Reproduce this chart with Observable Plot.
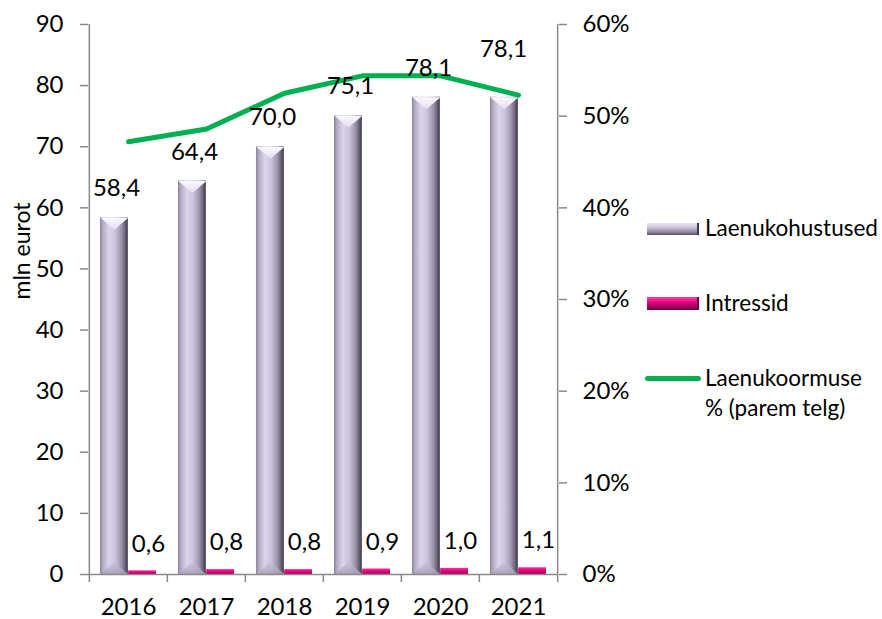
<!DOCTYPE html>
<html>
<head>
<meta charset="utf-8">
<script src="https://cdn.jsdelivr.net/npm/d3@7"></script>
<script src="https://cdn.jsdelivr.net/npm/@observablehq/plot@0.6"></script>
<style>
  html, body { margin: 0; padding: 0; background: #fff; }
  #wrap { position: relative; width: 882px; height: 619px; font-family: Lato, sans-serif; }
  .leg { position: absolute; font-size: 22.5px; color: #000; line-height: 30px; }
  .sw { position: absolute; }
</style>
</head>
<body>
<div id="wrap"></div>
<script>
const years = ["2016", "2017", "2018", "2019", "2020", "2021"];
const loans = [58.4, 64.4, 70.0, 75.1, 78.1, 78.1];
const interest = [0.6, 0.8, 0.8, 0.9, 1.0, 1.1];
const loadPct = [47.2, 48.6, 52.5, 54.4, 54.4, 52.3];
const leftTicks = [0, 10, 20, 30, 40, 50, 60, 70, 80, 90];
const rightTicksPct = [0, 10, 20, 30, 40, 50, 60];
const seriesNames = ["Laenukohustused", "Intressid", "Laenukoormuse % (parem telg)"];

const PCT_TO_LEFT = 90 / 60;
const data = years.map((year, i) => ({year, loan: loans[i], interest: interest[i], pct: loadPct[i]}));
const fmt = v => v.toFixed(1).replace(".", ",");

const W = 882, H = 619;
const mL = 88, mR = W - 558, mT = 24, mB = H - 574;
const bw = (W - mL - mR) / years.length;
const barW = bw * 0.36;
const gap = bw / 2 - barW;

const vSymbol = {
  draw(context, size) {
    const w = Math.sqrt(size);
    context.moveTo(-w / 2, 0);
    context.lineTo(w / 2, 0);
    context.lineTo(0, w * 0.43);
    context.closePath();
  }
};
const baseSymbol = {
  draw(context, size) {
    const w = Math.sqrt(size);
    context.moveTo(-w / 2, 0);
    context.lineTo(w / 2, 0);
    context.lineTo(0, -w * 0.45);
    context.closePath();
  }
};
const rV = barW / Math.sqrt(Math.PI);

const axisColor = "#898989";
const FS = 24;

const plot = Plot.plot({
  width: W, height: H,
  marginLeft: mL, marginRight: mR, marginTop: mT, marginBottom: mB,
  style: {fontFamily: "Lato, sans-serif", fontSize: FS + "px", color: "#000", background: "transparent", overflow: "visible"},
  x: {domain: years, padding: 0, axis: null},
  y: {domain: [0, 90], axis: null},
  marks: [
    Plot.barY(data, {x: "year", y: "loan", insetLeft: gap, insetRight: bw - gap - barW, fill: "url(#gLoan)"}),
    Plot.dot(data, {x: "year", y: 0, symbol: baseSymbol, r: rV, fill: "url(#gBase)", dx: -barW / 2, stroke: null}),
    Plot.dot(data, {x: "year", y: "loan", symbol: vSymbol, r: rV, fill: "url(#gTop)", dx: -barW / 2, stroke: null}),
    Plot.barY(data, {x: "year", y: "interest", insetLeft: bw / 2, insetRight: bw / 2 - barW, fill: "url(#gInt)"}),
    Plot.ruleX([years[0]], {x: d => d, y1: 0, y2: 90, dx: -bw / 2, stroke: axisColor, strokeWidth: 1.5}),
    Plot.ruleX([years[years.length - 1]], {x: d => d, y1: 0, y2: 90, dx: bw / 2, stroke: axisColor, strokeWidth: 1.5}),
    Plot.ruleY([0], {stroke: axisColor, strokeWidth: 1.5}),
    Plot.ruleX(years, {x: d => d, y1: 0, y2: 0, insetBottom: -8, dx: -bw / 2, stroke: axisColor, strokeWidth: 1.5}),
    Plot.ruleX([years[years.length - 1]], {x: d => d, y1: 0, y2: 0, insetBottom: -8, dx: bw / 2, stroke: axisColor, strokeWidth: 1.5}),
    Plot.axisY({anchor: "left", ticks: leftTicks, tickSize: 8, tickPadding: 17, stroke: axisColor, strokeWidth: 1.5, fontSize: FS, label: null}),
    Plot.axisY({anchor: "right", ticks: rightTicksPct.map(p => p * PCT_TO_LEFT), tickFormat: d => Math.round(d / PCT_TO_LEFT) + "%", tickSize: 8, tickPadding: 16, stroke: axisColor, strokeWidth: 1.5, fontSize: FS, label: null}),
    Plot.text(years, {x: d => d, frameAnchor: "bottom", dy: 33, lineAnchor: "middle", fontSize: FS}),
    Plot.text(["mln eurot"], {frameAnchor: "left", rotate: -90, dx: -66, fontSize: 23, lineAnchor: "middle"}),
    Plot.line(data, {x: "year", y: d => d.pct * PCT_TO_LEFT, stroke: "#00b050", strokeWidth: 5, strokeLinecap: "round", strokeLinejoin: "round"}),
    Plot.text(data.slice(0, -1), {x: "year", y: "loan", text: d => fmt(d.loan), dx: -12, dy: -29, lineAnchor: "middle", fontSize: FS}),
    Plot.text(data.slice(-1), {x: "year", y: "loan", text: d => fmt(d.loan), dx: -15, dy: -48, lineAnchor: "middle", fontSize: FS}),
    Plot.text(data, {x: "year", y: "interest", text: d => fmt(d.interest), dx: 20, dy: -27, lineAnchor: "middle", fontSize: FS})
  ]
});

d3.select(plot).insert("defs", ":first-child").html(`
  <linearGradient id="gLoan" x1="0" x2="1" y1="0" y2="0">
    <stop offset="0" stop-color="#8a829a"/>
    <stop offset="0.1" stop-color="#b3aac3"/>
    <stop offset="0.32" stop-color="#dcd4ec"/>
    <stop offset="0.55" stop-color="#cac1da"/>
    <stop offset="0.78" stop-color="#9a91a9"/>
    <stop offset="0.92" stop-color="#625a70"/>
    <stop offset="1" stop-color="#3e3848"/>
  </linearGradient>
  <linearGradient id="gTop" x1="0" x2="0" y1="0" y2="1">
    <stop offset="0" stop-color="#fbf9ff"/>
    <stop offset="1" stop-color="#e4ddf0"/>
  </linearGradient>
  <linearGradient id="gBase" x1="0" x2="0" y1="0" y2="1">
    <stop offset="0" stop-color="#c9c0d8" stop-opacity="0.6"/>
    <stop offset="1" stop-color="#a79eb7" stop-opacity="0.9"/>
  </linearGradient>
  <linearGradient id="gInt" x1="0" x2="0" y1="0" y2="1">
    <stop offset="0" stop-color="#ff2d98"/>
    <stop offset="0.5" stop-color="#e6007e"/>
    <stop offset="1" stop-color="#9e0057"/>
  </linearGradient>
`);

const wrap = document.getElementById("wrap");
wrap.appendChild(plot);

const legendHTML = `
  <div class="sw" style="left:647px;top:223px;width:52px;height:12px;background:linear-gradient(to bottom,#e9e4f2 0%,#cfc7de 35%,#9a91a8 70%,#5a5267 100%);border-right:2px solid #3e3848;box-sizing:border-box;"></div>
  <div class="leg" style="left:705px;top:213px;">${seriesNames[0]}</div>
  <div class="sw" style="left:647px;top:297px;width:52px;height:13px;background:linear-gradient(to bottom,#ff3da2 0%,#e6007e 45%,#a4005c 75%,#6e003e 100%);border-right:2px solid #6e003e;box-sizing:border-box;"></div>
  <div class="leg" style="left:705px;top:288px;">${seriesNames[1]}</div>
  <div class="sw" style="left:645px;top:375.5px;width:56px;height:5px;background:#00b050;border-radius:3px;"></div>
  <div class="leg" style="left:705px;top:363px;width:175px;">Laenukoormuse<br>% (parem telg)</div>
`;
wrap.insertAdjacentHTML("beforeend", legendHTML);
</script>
</body>
</html>
